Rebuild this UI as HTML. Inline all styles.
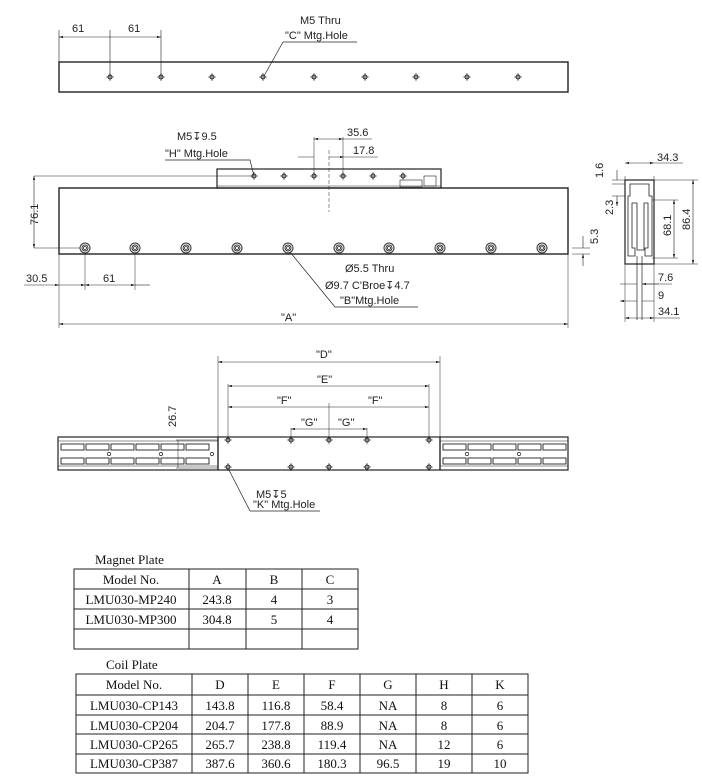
<!DOCTYPE html>
<html><head><meta charset="utf-8"><style>
body{margin:0;background:#fff}
svg{display:block}
text{font-family:"Liberation Sans",sans-serif;font-size:11px;fill:#222}
.t{font-family:"Liberation Serif",serif;font-size:13px;fill:#111}
</style></head><body>
<svg width="702" height="778" viewBox="0 0 702 778" xmlns="http://www.w3.org/2000/svg">
<defs>
<marker id="a" viewBox="0 0 10 6" refX="10" refY="3" markerWidth="7" markerHeight="4" orient="auto-start-reverse"><path d="M0,0L10,3L0,6z" fill="#222"/></marker>
<g id="h"><circle r="2" fill="none" stroke="#222" stroke-width="1"/><path d="M-4,0H4M0,-4V4" stroke="#222" stroke-width=".6"/></g>
<g id="cb"><circle r="5" fill="none" stroke="#333" stroke-width="1"/><circle r="3" fill="none" stroke="#333" stroke-width="1"/><circle r="1.5" fill="none" stroke="#333" stroke-width=".8"/></g>
<g id="sl"><rect x="0" y="0" width="23" height="6" fill="none" stroke="#222" stroke-width=".9"/></g>
</defs>
<g stroke="#222" fill="none" stroke-width="1">
<rect x="59" y="62" width="509" height="30" stroke-width="1.4"/>
<path d="M59,62V30M110,77V30M161,77V30" stroke-width=".6"/>
<path d="M59,37H110M110,37H161" marker-start="url(#a)" marker-end="url(#a)" stroke-width=".6"/>
<path d="M283,42H357M283,42L264,76" stroke-width=".7"/>
<rect x="217" y="169" width="224" height="19" stroke-width="1.2"/>
<path d="M217,186H441" stroke-width=".6"/>
<rect x="400" y="180" width="22" height="7" stroke-width=".6"/><rect x="424" y="176" width="12" height="10" stroke-width=".6"/>
<rect x="59" y="188" width="509" height="66" stroke-width="1.4"/>
<path d="M329,150V212" stroke-dasharray="4,2" stroke-width=".5"/>
<path d="M34,176H254M34,248H80M572,248H590M572,254H590M314,137V176M343,137V176" stroke-width=".5"/>
<path d="M34,176V248" marker-start="url(#a)" marker-end="url(#a)" stroke-width=".6"/>
<path d="M314,139H343" marker-start="url(#a)" marker-end="url(#a)" stroke-width=".6"/><path d="M343,139H372" stroke-width=".6"/>
<path d="M298,157H314M329,157H344" marker-end="url(#a)" stroke-width=".6"/><path d="M344,157H378" stroke-width=".6"/>
<path d="M583,236V248M583,266V254" marker-end="url(#a)" stroke-width=".6"/>
<path d="M165,160H250L254,176" stroke-width=".7"/>
<path d="M59,254V328M568,254V328M85,254V290M135,254V290" stroke-width=".5"/>
<path d="M24,285H59" marker-end="url(#a)" stroke-width=".6"/><path d="M59,285H85" marker-end="url(#a)" stroke-width=".6"/><path d="M85,285H135" marker-start="url(#a)" marker-end="url(#a)" stroke-width=".6"/><path d="M135,285H150" stroke-width=".6"/>
<path d="M59,324H568" marker-start="url(#a)" marker-end="url(#a)" stroke-width=".6"/>
<path d="M418,307H335L290,252" stroke-width=".7"/>
<rect x="625" y="180" width="29" height="84" stroke-width="1.2"/>
<path d="M630,184H649V196H652V256H645V248H648V203H644V250H637V203H632V248H635V256H628V196H630Z" stroke-width=".8"/>
<path d="M637,256V320M642,256V320" stroke-width=".7"/>
<path d="M625,176V322M654,176V322M654,180H698M654,264H698M652,200H678M652,258H678M612,180H625M612,184H625M612,196H625" stroke-width=".5"/>
<path d="M625,163H654" marker-start="url(#a)" marker-end="url(#a)" stroke-width=".6"/><path d="M654,163H683" stroke-width=".6"/>
<path d="M693,180V264" marker-start="url(#a)" marker-end="url(#a)" stroke-width=".6"/>
<path d="M674,200V258" marker-start="url(#a)" marker-end="url(#a)" stroke-width=".6"/>
<path d="M617,170V180M617,196V206" marker-end="url(#a)" stroke-width=".6"/>
<path d="M620,284H637M659,284H642" marker-end="url(#a)" stroke-width=".6"/><path d="M642,284H672" stroke-width=".6"/>
<path d="M620,301H637M642,301H654" marker-start="url(#a)" stroke-width=".6"/>
<path d="M625,318H654" marker-start="url(#a)" marker-end="url(#a)" stroke-width=".6"/><path d="M654,318H680" stroke-width=".6"/>
<rect x="58" y="437" width="160" height="33" stroke-width="1.2"/>
<rect x="440" y="437" width="128" height="33" stroke-width="1.2"/>
<rect x="218" y="437" width="222" height="33" stroke-width="1.2"/>
<path d="M58,441H218M58,466H218M440,441H568M440,466H568" stroke-width=".5"/>
<path d="M218,437V356M440,437V356M228,440V384M429,440V384M291,440V428M367,440V428M329,403V440" stroke-width=".5"/>
<path d="M218,362H440" marker-start="url(#a)" marker-end="url(#a)" stroke-width=".6"/>
<path d="M228,386H429" marker-start="url(#a)" marker-end="url(#a)" stroke-width=".6"/>
<path d="M228,407H329M329,407H429" marker-start="url(#a)" marker-end="url(#a)" stroke-width=".6"/>
<path d="M291,429H329M329,429H367" marker-start="url(#a)" marker-end="url(#a)" stroke-width=".6"/>
<path d="M178,440V468M176,440H218M176,468H218" stroke-width=".5"/>
<path d="M320,511H250L229,470" stroke-width=".7"/>
<circle cx="109" cy="454" r="1.6" stroke-width=".7"/><circle cx="161" cy="454" r="1.6" stroke-width=".7"/><circle cx="212" cy="454" r="1.6" stroke-width=".7"/>
<circle cx="467" cy="454" r="1.6" stroke-width=".7"/><circle cx="519" cy="454" r="1.6" stroke-width=".7"/>
</g>
<g>
<use href="#sl" x="61" y="444"/><use href="#sl" x="86" y="444"/><use href="#sl" x="111" y="444"/><use href="#sl" x="136" y="444"/><use href="#sl" x="161" y="444"/><use href="#sl" x="186" y="444"/>
<use href="#sl" x="61" y="458"/><use href="#sl" x="86" y="458"/><use href="#sl" x="111" y="458"/><use href="#sl" x="136" y="458"/><use href="#sl" x="161" y="458"/><use href="#sl" x="186" y="458"/>
<use href="#sl" x="443" y="444"/><use href="#sl" x="468" y="444"/><use href="#sl" x="493" y="444"/><use href="#sl" x="518" y="444"/><use href="#sl" x="543" y="444"/>
<use href="#sl" x="443" y="458"/><use href="#sl" x="468" y="458"/><use href="#sl" x="493" y="458"/><use href="#sl" x="518" y="458"/><use href="#sl" x="543" y="458"/>
</g>
<g>
<use href="#h" x="110" y="77"/><use href="#h" x="161" y="77"/><use href="#h" x="212" y="77"/><use href="#h" x="263" y="77"/><use href="#h" x="314" y="77"/><use href="#h" x="365" y="77"/><use href="#h" x="416" y="77"/><use href="#h" x="467" y="77"/><use href="#h" x="518" y="77"/>
<use href="#h" x="254" y="176"/><use href="#h" x="284" y="176"/><use href="#h" x="314" y="176"/><use href="#h" x="343" y="176"/><use href="#h" x="373" y="176"/><use href="#h" x="403" y="176"/>
<use href="#cb" x="85" y="248"/><use href="#cb" x="135" y="248"/><use href="#cb" x="186" y="248"/><use href="#cb" x="237" y="248"/><use href="#cb" x="288" y="248"/><use href="#cb" x="339" y="248"/><use href="#cb" x="389" y="248"/><use href="#cb" x="440" y="248"/><use href="#cb" x="491" y="248"/><use href="#cb" x="542" y="248"/>
<use href="#h" x="228" y="440"/><use href="#h" x="291" y="440"/><use href="#h" x="329" y="440"/><use href="#h" x="367" y="440"/><use href="#h" x="429" y="440"/>
<use href="#h" x="228" y="467"/><use href="#h" x="291" y="467"/><use href="#h" x="329" y="467"/><use href="#h" x="367" y="467"/><use href="#h" x="429" y="467"/>
</g>
<text x="72" y="32">61</text><text x="128" y="32">61</text>
<text x="300" y="24">M5 Thru</text><text x="285" y="39">"C" Mtg.Hole</text>
<text x="177" y="140">M5↧9.5</text><text x="165" y="157">"H" Mtg.Hole</text>
<text x="347" y="136">35.6</text><text x="353" y="154">17.8</text>
<text transform="translate(38,225) rotate(-90)">76.1</text>
<text transform="translate(598,244) rotate(-90)">5.3</text>
<text x="26" y="282">30.5</text><text x="103" y="282">61</text>
<text x="345" y="272">Ø5.5 Thru</text><text x="325" y="289">Ø9.7 C'Broe↧4.7</text><text x="340" y="304">"B"Mtg.Hole</text>
<text x="281" y="321">"A"</text>
<text x="657" y="161">34.3</text>
<text transform="translate(603,178) rotate(-90)">1.6</text><text transform="translate(613,215) rotate(-90)">2.3</text>
<text transform="translate(671,236) rotate(-90)">68.1</text><text transform="translate(690,230) rotate(-90)">86.4</text>
<text x="658" y="281">7.6</text><text x="658" y="299">9</text><text x="658" y="315">34.1</text>
<text x="316" y="358">"D"</text><text x="317" y="383">"E"</text><text x="277" y="404">"F"</text><text x="368" y="404">"F"</text>
<text x="301" y="426">"G"</text><text x="338" y="426">"G"</text>
<text transform="translate(176,427) rotate(-90)">26.7</text>
<text x="256" y="498">M5↧5</text><text x="253" y="508">"K" Mtg.Hole</text>
<text class="t" x="95" y="564">Magnet Plate</text>
<g stroke="#222" stroke-width="1" fill="none">
<rect x="74" y="569" width="284" height="80"/>
<path d="M74,589H358M74,609H358M74,629H358M189,569V649M246,569V649M302,569V649"/>
<rect x="76" y="674" width="452" height="99"/>
<path d="M76,695H528M76,715H528M76,734H528M76,754H528M192,674V773M248,674V773M304,674V773M360,674V773M416,674V773M472,674V773"/>
</g>
<g text-anchor="middle">
<text class="t" x="131" y="584">Model No.</text><text class="t" x="217" y="584">A</text><text class="t" x="274" y="584">B</text><text class="t" x="330" y="584">C</text>
<text class="t" x="131" y="604">LMU030-MP240</text><text class="t" x="217" y="604">243.8</text><text class="t" x="274" y="604">4</text><text class="t" x="330" y="604">3</text>
<text class="t" x="131" y="624">LMU030-MP300</text><text class="t" x="217" y="624">304.8</text><text class="t" x="274" y="624">5</text><text class="t" x="330" y="624">4</text>
</g>
<text class="t" x="106" y="669">Coil Plate</text>
<g text-anchor="middle">
<text class="t" x="134" y="689">Model No.</text><text class="t" x="220" y="689">D</text><text class="t" x="276" y="689">E</text><text class="t" x="332" y="689">F</text><text class="t" x="388" y="689">G</text><text class="t" x="444" y="689">H</text><text class="t" x="500" y="689">K</text>
<text class="t" x="134" y="710">LMU030-CP143</text><text class="t" x="220" y="710">143.8</text><text class="t" x="276" y="710">116.8</text><text class="t" x="332" y="710">58.4</text><text class="t" x="388" y="710">NA</text><text class="t" x="444" y="710">8</text><text class="t" x="500" y="710">6</text>
<text class="t" x="134" y="730">LMU030-CP204</text><text class="t" x="220" y="730">204.7</text><text class="t" x="276" y="730">177.8</text><text class="t" x="332" y="730">88.9</text><text class="t" x="388" y="730">NA</text><text class="t" x="444" y="730">8</text><text class="t" x="500" y="730">6</text>
<text class="t" x="134" y="749">LMU030-CP265</text><text class="t" x="220" y="749">265.7</text><text class="t" x="276" y="749">238.8</text><text class="t" x="332" y="749">119.4</text><text class="t" x="388" y="749">NA</text><text class="t" x="444" y="749">12</text><text class="t" x="500" y="749">6</text>
<text class="t" x="134" y="768">LMU030-CP387</text><text class="t" x="220" y="768">387.6</text><text class="t" x="276" y="768">360.6</text><text class="t" x="332" y="768">180.3</text><text class="t" x="388" y="768">96.5</text><text class="t" x="444" y="768">19</text><text class="t" x="500" y="768">10</text>
</g>
</svg>
</body></html>
